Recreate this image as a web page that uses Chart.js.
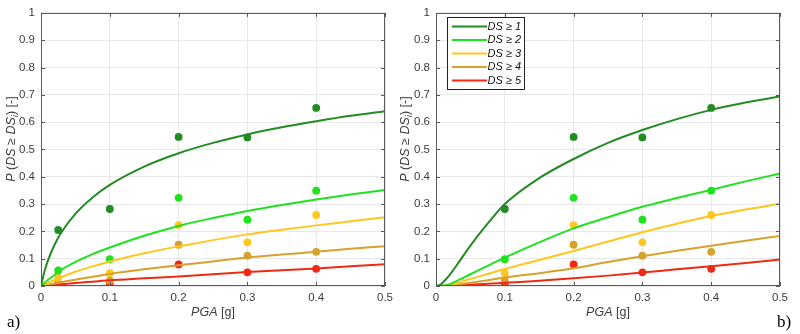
<!DOCTYPE html>
<html>
<head>
<meta charset="utf-8">
<script src="https://cdn.jsdelivr.net/npm/chart.js@4/dist/chart.umd.min.js"></script>
<style>
  html, body { margin: 0; padding: 0; background: #fff; }
  #wrap { position: relative; width: 800px; height: 334px; overflow: hidden; }
  canvas { position: absolute; top: 0; }
  #chartA { left: 0; }
  #chartB { left: 400px; }
</style>
</head>
<body>
<div id="wrap">
  <canvas id="chartA" width="400" height="334"></canvas>
  <canvas id="chartB" width="400" height="334"></canvas>
</div>
<script>
// damage state labels and colours
const dsLabels = ['1', '2', '3', '4', '5'];
const dsColors = ['#238b23', '#1fe21f', '#ffc61e', '#d6a12c', '#f02a12'];

// observed fractions (dots), same in both panels
const pgaObs = [0.025, 0.1, 0.2, 0.3, 0.4];
const ds1Obs = [0.205, 0.282, 0.546, 0.544, 0.652];
const ds2Obs = [0.057, 0.098, 0.323, 0.243, 0.349];
const ds3Obs = [0.031, 0.047, 0.223, 0.160, 0.260];
const ds4Obs = [0.011, 0.020, 0.151, 0.111, 0.125];
const ds5Obs = [0.007, 0.005, 0.079, 0.050, 0.063];

// fitted curves, panel a)
const pgaCurveA = [0, 0.002, 0.005, 0.01, 0.02, 0.03, 0.05, 0.075, 0.1, 0.15, 0.2, 0.25, 0.3, 0.35, 0.4, 0.45, 0.5];
const ds1CurveA = [0, 0.022, 0.053, 0.093, 0.153, 0.198, 0.264, 0.324, 0.370, 0.437, 0.486, 0.524, 0.555, 0.581, 0.603, 0.623, 0.640];
const ds2CurveA = [0, 0.004, 0.011, 0.022, 0.041, 0.060, 0.088, 0.117, 0.141, 0.184, 0.220, 0.249, 0.275, 0.297, 0.317, 0.335, 0.352];
const ds3CurveA = [0, 0.002, 0.005, 0.011, 0.022, 0.033, 0.052, 0.072, 0.090, 0.120, 0.145, 0.168, 0.189, 0.206, 0.222, 0.237, 0.252];
const ds4CurveA = [0, 0.0005, 0.002, 0.004, 0.009, 0.014, 0.023, 0.034, 0.044, 0.061, 0.076, 0.090, 0.104, 0.115, 0.125, 0.136, 0.146];
const ds5CurveA = [0, 0.0002, 0.0007, 0.0017, 0.004, 0.0065, 0.011, 0.016, 0.021, 0.028, 0.035, 0.043, 0.051, 0.058, 0.064, 0.072, 0.080];

// fitted curves, panel b)
const pgaCurveB = [0, 0.005, 0.01, 0.02, 0.03, 0.05, 0.075, 0.1, 0.15, 0.2, 0.25, 0.3, 0.35, 0.4, 0.45, 0.5];
const ds1CurveB = [0, 0.003, 0.013, 0.041, 0.076, 0.148, 0.228, 0.300, 0.395, 0.465, 0.524, 0.571, 0.611, 0.645, 0.672, 0.694];
const ds2CurveB = [0, 0, 0.001, 0.007, 0.018, 0.043, 0.074, 0.104, 0.160, 0.211, 0.252, 0.290, 0.322, 0.352, 0.383, 0.412];
const ds3CurveB = [0, 0, 0.0005, 0.004, 0.010, 0.026, 0.044, 0.062, 0.095, 0.128, 0.163, 0.197, 0.228, 0.256, 0.280, 0.301];
const ds4CurveB = [0, 0, 0, 0.002, 0.005, 0.012, 0.021, 0.031, 0.047, 0.065, 0.088, 0.109, 0.129, 0.147, 0.166, 0.183];
const ds5CurveB = [0, 0, 0, 0.001, 0.002, 0.005, 0.008, 0.012, 0.019, 0.028, 0.038, 0.049, 0.061, 0.072, 0.084, 0.097];

const xTicks = [0, 0.1, 0.2, 0.3, 0.4, 0.5];
const yTicks = [0, 0.1, 0.2, 0.3, 0.4, 0.5, 0.6, 0.7, 0.8, 0.9, 1];

const FONT = "'Liberation Sans', Arial, sans-serif";
Chart.defaults.font.family = FONT;
Chart.defaults.font.size = 11.5;
Chart.defaults.color = '#3c3c3c';

const toXY = (xs, ys) => xs.map((x, i) => ({x: x, y: ys[i]}));

function buildDatasets(pgaCurve, curves, obsFrom) {
  const obs = [ds1Obs, ds2Obs, ds3Obs, ds4Obs, ds5Obs];
  const sets = [];
  curves.forEach((c, i) => {
    sets.push({
      label: 'DS ≥ ' + dsLabels[i],
      data: toXY(pgaCurve, c),
      showLine: true,
      borderColor: dsColors[i],
      borderWidth: 2,
      pointRadius: 0,
      cubicInterpolationMode: 'monotone',
      fill: false
    });
  });
  obs.forEach((o, i) => {
    sets.push({
      label: 'obs ' + dsLabels[i],
      data: toXY(pgaObs.slice(obsFrom), o.slice(obsFrom)),
      showLine: false,
      pointRadius: 3.9,
      pointBackgroundColor: dsColors[i],
      pointBorderWidth: 0,
      pointBorderColor: dsColors[i]
    });
  });
  return sets;
}

// draws mixed italic / upright text segments
function drawSegments(ctx, segs, size, x, y, align) {
  const fontOf = s => (s.it ? 'italic ' : '') + (s.sub ? size * 0.78 : size) + 'px ' + FONT;
  const widths = segs.map(s => { ctx.font = fontOf(s); return ctx.measureText(s.t).width; });
  const total = widths.reduce((a, b) => a + b, 0);
  let cx = align === 'center' ? x - total / 2 : (align === 'right' ? x - total : x);
  segs.forEach((s, i) => {
    ctx.font = fontOf(s);
    ctx.textAlign = 'left';
    ctx.fillText(s.t, cx, s.sub ? y + size * 0.3 : y);
    cx += widths[i];
  });
}

function framePlugin(cfg) {
  return {
    id: 'frame',
    afterDraw(chart) {
      const ctx = chart.ctx;
      const a = chart.chartArea;
      const xs = chart.scales.x, ys = chart.scales.y;
      ctx.save();
      // box
      ctx.strokeStyle = '#5a5a5a';
      ctx.lineWidth = 1;
      ctx.strokeRect(Math.round(a.left) + 0.5, Math.round(a.top) + 0.5,
        Math.round(a.right - a.left) - 1, Math.round(a.bottom - a.top) - 1);
      // inward tick marks
      ctx.beginPath();
      xTicks.forEach(v => {
        const px = Math.round(xs.getPixelForValue(v)) + 0.5;
        ctx.moveTo(px, a.bottom); ctx.lineTo(px, a.bottom - 4);
        ctx.moveTo(px, a.top); ctx.lineTo(px, a.top + 4);
      });
      yTicks.forEach(v => {
        const py = Math.round(ys.getPixelForValue(v)) + 0.5;
        ctx.moveTo(a.left, py); ctx.lineTo(a.left + 4, py);
        ctx.moveTo(a.right, py); ctx.lineTo(a.right - 4, py);
      });
      ctx.stroke();

      // axis titles
      ctx.fillStyle = '#3c3c3c';
      ctx.textBaseline = 'middle';
      drawSegments(ctx, [{t: 'PGA', it: true}, {t: ' [g]'}], 12.5, (a.left + a.right) / 2, 313, 'center');
      ctx.save();
      ctx.translate(cfg.yTitleX, 139);
      ctx.rotate(-Math.PI / 2);
      drawSegments(ctx, [
        {t: 'P', it: true}, {t: ' ('}, {t: 'DS', it: true}, {t: ' ≥ '},
        {t: 'DS', it: true}, {t: 'i', it: true, sub: true}, {t: ') [-]'}
      ], 12.5, 0, 0, 'center');
      ctx.restore();

      // panel letter
      ctx.fillStyle = '#000';
      ctx.font = '17px "Liberation Serif", "Times New Roman", serif';
      ctx.textBaseline = 'alphabetic';
      ctx.textAlign = 'left';
      ctx.fillText(cfg.letter, cfg.letterX, 327);

      // legend
      if (cfg.legend) {
        const L = cfg.legend;
        ctx.fillStyle = '#fff';
        ctx.fillRect(L.x, L.y, L.w, L.h);
        ctx.strokeStyle = '#222';
        ctx.strokeRect(L.x + 0.5, L.y + 0.5, L.w, L.h);
        dsLabels.forEach((lab, i) => {
          const ry = L.y + 9.5 + i * 13.5;
          ctx.strokeStyle = dsColors[i];
          ctx.lineWidth = 2;
          ctx.beginPath();
          ctx.moveTo(L.x + 5, ry); ctx.lineTo(L.x + 40, ry);
          ctx.stroke();
          ctx.fillStyle = '#111';
          ctx.textBaseline = 'middle';
          drawSegments(ctx, [{t: 'DS', it: true}, {t: ' ≥ '}, {t: lab, it: true}], 11, L.x + L.w - 3, ry, 'right');
        });
      }
      ctx.restore();
    }
  };
}

function makeChart(id, datasets, cfg) {
  return new Chart(document.getElementById(id), {
    type: 'scatter',
    data: {datasets: datasets},
    options: {
      responsive: false,
      animation: false,
      layout: {padding: {left: 0, right: cfg.padRight, top: 7, bottom: 0}},
      plugins: {legend: {display: false}, tooltip: {enabled: false}},
      scales: {
        x: {
          type: 'linear', min: 0, max: 0.5,
          afterFit: s => { s.height = 48; },
          afterBuildTicks: s => { s.ticks = xTicks.map(v => ({value: v})); },
          ticks: {padding: 5, callback: v => String(Number(v.toFixed(1)))},
          grid: {color: '#e8e8e8', drawTicks: false},
          border: {display: false}
        },
        y: {
          type: 'linear', min: 0, max: 1,
          afterFit: s => { s.width = cfg.yWidth; },
          afterBuildTicks: s => { s.ticks = yTicks.map(v => ({value: v})); },
          ticks: {padding: 6, callback: v => String(Number(v.toFixed(1)))},
          grid: {color: '#e8e8e8', drawTicks: false},
          border: {display: false}
        }
      }
    },
    plugins: [framePlugin(cfg)]
  });
}

makeChart('chartA',
  buildDatasets(pgaCurveA, [ds1CurveA, ds2CurveA, ds3CurveA, ds4CurveA, ds5CurveA], 0),
  {yWidth: 41, padRight: 15, yTitleX: 12, letter: 'a)', letterX: 7});

makeChart('chartB',
  buildDatasets(pgaCurveB, [ds1CurveB, ds2CurveB, ds3CurveB, ds4CurveB, ds5CurveB], 1),
  {yWidth: 36, padRight: 20, yTitleX: 6, letter: 'b)', letterX: 377,
   legend: {x: 47, y: 17, w: 77, h: 72}});
</script>
</body>
</html>
